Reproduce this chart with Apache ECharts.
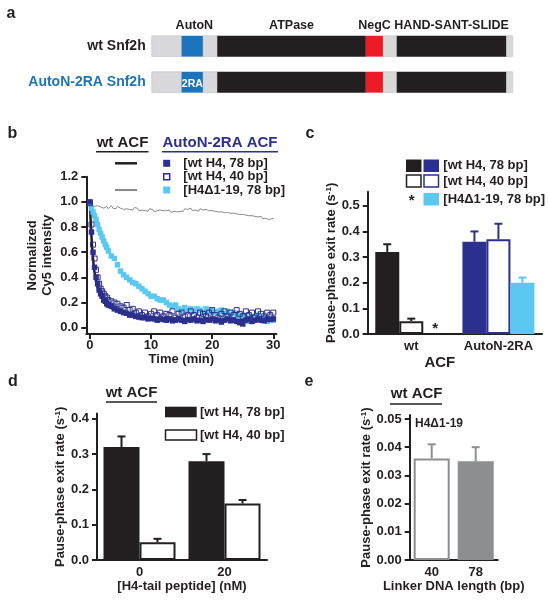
<!DOCTYPE html>
<html><head><meta charset="utf-8">
<script src="https://cdn.jsdelivr.net/npm/echarts/dist/echarts.min.js"></script>
<style>html,body{margin:0;padding:0;background:#fff}#c{width:549px;height:600px}</style>
</head><body><div id="c"></div><script>
// ---------- Panel a: domain map ----------
const proteins = ['wt Snf2h', 'AutoN-2RA Snf2h'];
const domainStart = [0, 87, 150, 191, 624, 675, 714, 1034];
const domainEnd   = [87, 150, 191, 624, 675, 714, 1034, 1052];
const domainNames = ['', 'AutoN', '', 'ATPase', 'NegC', '', 'HAND-SANT-SLIDE', ''];
const domainKinds = ['linker', 'autoN', 'linker', 'core', 'negC', 'linker', 'core', 'linker'];
const mutantLabel = '2RA';

// ---------- Panel b: time courses ----------
const sqTimes = [0,0.25,0.5,0.75,1,1.25,1.5,1.75,2,2.25,2.5,2.75,3,
  3.5,4,4.5,5,5.5,6,6.5,7,7.5,8,8.5,9,9.5,10,10.5,11,11.5,12,12.5,13,13.5,14,14.5,15,
  15.5,16,16.5,17,17.5,18,18.5,19,19.5,20,20.5,21,21.5,22,22.5,23,23.5,24,24.5,25,
  25.5,26,26.5,27,27.5,28,28.5,29,29.5,30];
const mut78 = [1.00,0.76,0.60,0.48,0.40,0.35,0.30,0.27,0.25,0.22,0.21,0.19,0.18,
  0.17,0.15,0.14,0.13,0.12,0.115,0.10,0.10,0.09,0.085,0.08,0.08,0.07,0.075,0.07,0.06,0.07,0.065,0.06,0.07,0.055,0.06,0.07,0.06,
  0.05,0.065,0.06,0.07,0.055,0.06,0.05,0.065,0.06,0.07,0.055,0.06,0.045,0.06,0.07,0.055,0.06,0.05,0.04,0.03,
  0.06,0.07,0.05,0.06,0.07,0.06,0.055,0.07,0.065,0.07];
const mut40 = [0.99,0.82,0.66,0.55,0.46,0.40,0.35,0.31,0.29,0.27,0.25,0.24,0.22,
  0.21,0.20,0.19,0.17,0.16,0.18,0.14,0.15,0.12,0.13,0.10,0.12,0.09,0.11,0.13,0.10,0.12,0.09,0.11,0.10,0.13,0.08,0.11,0.12,
  0.09,0.10,0.13,0.10,0.08,0.12,0.11,0.09,0.12,0.14,0.10,0.08,0.11,0.13,0.09,0.12,0.10,0.14,0.11,0.09,
  0.13,0.10,0.12,0.08,0.13,0.11,0.09,0.12,0.10,0.12];
const mutDel = [0.99,0.95,0.92,0.89,0.86,0.82,0.78,0.75,0.72,0.69,0.66,0.64,0.61,
  0.57,0.55,0.50,0.45,0.42,0.40,0.38,0.36,0.35,0.33,0.31,0.29,0.27,0.25,0.25,0.23,0.22,0.22,0.20,0.18,0.17,0.18,0.15,0.14,
  0.16,0.14,0.15,0.13,0.15,0.14,0.12,0.15,0.13,0.14,0.12,0.13,0.14,0.11,0.13,0.10,0.12,0.11,0.09,0.10,
  0.08,0.05,0.09,0.07,0.10,0.06,0.08,0.05,0.07,0.06];
const wtFitT = [0,0.25,0.5,0.75,1,1.25,1.5,1.75,2,2.25,2.5,2.75,3,3.5,4,5,6,7,8,10,12,15,20,25,30];
const wtFitY = [1.0,0.72,0.55,0.44,0.37,0.32,0.28,0.25,0.23,0.21,0.195,0.18,0.17,0.155,0.145,0.125,0.11,0.10,0.09,0.08,0.075,0.07,0.065,0.06,0.06];
const wtDelStep = 0.25;
const wtDelY = [0.99,0.97,0.955,0.965,0.95,0.97,0.955,0.96,0.975,0.95,
  0.96,0.965,0.945,0.96,0.97,0.95,0.96,0.945,0.965,0.955,
  0.95,0.96,0.94,0.955,0.945,0.96,0.94,0.95,0.935,0.955,
  0.94,0.95,0.93,0.945,0.935,0.95,0.93,0.94,0.925,0.945,
  0.93,0.94,0.92,0.935,0.93,0.915,0.935,0.92,0.93,0.915,
  0.93,0.92,0.935,0.915,0.93,0.925,0.94,0.92,0.935,0.925,
  0.94,0.925,0.945,0.93,0.94,0.935,0.95,0.93,0.945,0.935,
  0.94,0.925,0.945,0.93,0.935,0.92,0.94,0.925,0.93,0.915,
  0.93,0.915,0.925,0.91,0.92,0.905,0.92,0.91,0.915,0.9,
  0.915,0.905,0.91,0.895,0.91,0.9,0.905,0.89,0.9,0.895,
  0.9,0.885,0.895,0.88,0.89,0.875,0.89,0.88,0.885,0.87,
  0.88,0.87,0.885,0.865,0.875,0.87,0.88,0.86,0.875,0.865,
  0.87];
const bTicksX = [0, 10, 20, 30];
const bTicksY = [0, 0.2, 0.4, 0.6, 0.8, 1.0, 1.2];

// ---------- Panel c ----------
const cCats = ['wt', 'AutoN-2RA'];
const c78 = [0.32, 0.36], c78Err = [0.35, 0.40];
const c40 = [0.05, 0.37], c40Err = [0.06, 0.43];
const cDel = [null, 0.20], cDelErr = [null, 0.22];
const cTicksY = [0, 0.1, 0.2, 0.3, 0.4, 0.5];

// ---------- Panel d ----------
const dCats = ['0', '20'];
const d78 = [0.32, 0.28], d78Err = [0.35, 0.30];
const d40 = [0.05, 0.16], d40Err = [0.06, 0.17];
const dTicksY = [0, 0.1, 0.2, 0.3, 0.4];

// ---------- Panel e ----------
const eCats = ['40', '78'];
const eVal = [0.036, 0.035], eErr = [0.041, 0.040];
const eTicksY = [0, 0.01, 0.02, 0.03, 0.04, 0.05];

// ---------- styles ----------
const FONT = '"Liberation Sans", Arial, Helvetica, sans-serif';
const INK = '#231f20', NAVY = '#2b2f8e', CYAN = '#5ac8f0', GREY = '#8d8e90', BLUE = '#1c75bc';
const kindColors = {linker: '#d8d8da', autoN: BLUE, core: INK, negC: '#ed1c24'};

const chart = echarts.init(document.getElementById('c'), null, {renderer: 'canvas'});

function lbl(extra) { return Object.assign({color: INK, fontSize: 13, fontWeight: 'bold', fontFamily: FONT}, extra || {}); }
const aLine = {show: true, onZero: false, lineStyle: {color: INK, width: 2}};
function ticks(vals) { const t = {show: true, length: 5, inside: false, lineStyle: {color: INK, width: 2}}; if (vals) t.customValues = vals; return t; }
const yName = '{t|Pause-phase exit rate (s}{s|-1}{t|)}';
const yNameStyle = {rich: {t: {fontSize: 13, fontWeight: 'bold', fontFamily: FONT, color: INK}, s: {fontSize: 8, fontWeight: 'bold', fontFamily: FONT, color: INK, verticalAlign: 'top', lineHeight: 10}}};

function valAxis(grid, min, max, vals, dec, name, gap, extra) {
  return Object.assign({
    type: 'value', gridIndex: grid, min: min, max: max,
    axisLine: aLine, axisTick: ticks(vals), splitLine: {show: false},
    axisLabel: lbl({customValues: vals, margin: 8, formatter: v => v.toFixed(dec)}),
    name: name, nameLocation: 'middle', nameGap: gap, nameRotate: 90, nameTextStyle: yNameStyle
  }, extra || {});
}
function catAxis(grid, cats, name, gap, nameStyle) {
  return {
    type: 'category', gridIndex: grid, data: cats,
    axisLine: aLine, axisTick: {show: false}, splitLine: {show: false},
    axisLabel: lbl({margin: 6, interval: 0}),
    name: name, nameLocation: 'middle', nameGap: gap, nameTextStyle: nameStyle || lbl()
  };
}

// Panel a render
const aData = [];
proteins.forEach((p, r) => domainStart.forEach((s, i) => aData.push([r, s, domainEnd[i], i])));
function renderDomain(params, api) {
  const row = api.value(0), s = api.value(1), e = api.value(2), k = api.value(3);
  const p0 = api.coord([s, row]), p1 = api.coord([e, row]);
  const h = api.size([0, 1])[1] * 0.58;
  const kind = domainKinds[k];
  const kids = [{type: 'rect', shape: {x: p0[0], y: p0[1] - h / 2, width: p1[0] - p0[0], height: h},
    style: {fill: kindColors[kind], stroke: kind === 'linker' ? '#c4c4c6' : null, lineWidth: 0.6}}];
  if (row === 0 && domainNames[k]) {
    kids.push({type: 'text', x: (p0[0] + p1[0]) / 2 + (kind === 'autoN' ? 2 : 0), y: p0[1] - h / 2 - 4,
      style: {text: domainNames[k], fill: INK, font: 'bold 12.5px ' + FONT, align: 'center', verticalAlign: 'bottom'}});
  }
  if (row === 1 && kind === 'autoN') {
    kids.push({type: 'text', x: (p0[0] + p1[0]) / 2, y: p0[1] + 2,
      style: {text: mutantLabel, fill: '#fff', font: 'bold 10.5px ' + FONT, align: 'center', verticalAlign: 'middle'}});
  }
  return {type: 'group', children: kids};
}

// error bars
function errSeries(xi, yi, nSlots, barW, items, z) {
  return {
    type: 'custom', xAxisIndex: xi, yAxisIndex: yi, z: z || 5, data: items.map(it => [it[0], it[1], it[2], it[3]]),
    renderItem: (params, api) => {
      const it = items[params.dataIndex];
      const off = (api.value(3) - (nSlots - 1) / 2) * barW;
      const pb = api.coord([api.value(0), api.value(1)]), pt = api.coord([api.value(0), api.value(2)]);
      const x = pb[0] + off;
      return {type: 'group', children: [
        {type: 'line', shape: {x1: x, y1: pb[1], x2: x, y2: pt[1]}, style: {stroke: it[4], lineWidth: 2}},
        {type: 'line', shape: {x1: x - 4, y1: pt[1], x2: x + 4, y2: pt[1]}, style: {stroke: it[4], lineWidth: 2}}
      ]};
    }
  };
}

const sq = (ys) => sqTimes.map((t, i) => [t, ys[i]]);

// graphic helpers
function T(text, x, y, o) {
  o = o || {};
  return {type: 'text', x: x, y: y, z: 100, style: {text: text, fill: o.color || INK,
    font: 'bold ' + (o.size || 13) + 'px ' + FONT, align: o.align || 'left', verticalAlign: 'middle'}};
}
function L(x1, y1, x2, y2, c, w) { return {type: 'line', z: 100, shape: {x1, y1, x2, y2}, style: {stroke: c || INK, lineWidth: w || 1.5}}; }
function R(x, y, w, h, fill, stroke) { return {type: 'rect', z: 100, shape: {x, y, width: w, height: h}, style: {fill: fill, stroke: stroke || null, lineWidth: 1.5}}; }

const option = {
  animation: false,
  textStyle: {fontFamily: FONT},
  grid: [
    {left: 151.7, top: 28.2, width: 361, height: 72},
    {left: 86.3, top: 176.7, width: 190.1, height: 157.3},
    {left: 367.7, top: 191.7, width: 174.3, height: 142.3},
    {left: 97, top: 413.5, width: 170, height: 146.5},
    {left: 409.7, top: 415, width: 88, height: 145}
  ],
  xAxis: [
    {type: 'value', gridIndex: 0, min: 0, max: 1052, show: false},
    {type: 'value', gridIndex: 1, min: -0.6, max: 30.5, axisLine: aLine, axisTick: ticks(bTicksX), splitLine: {show: false},
      axisLabel: lbl({customValues: bTicksX, margin: 5}), name: 'Time (min)', nameLocation: 'middle', nameGap: 18, nameTextStyle: lbl()},
    catAxis(2, cCats, 'ACF', 21, lbl({fontSize: 15, padding: [0, 30, 0, 0]})),
    catAxis(3, dCats, '[H4-tail peptide] (nM)', 20),
    catAxis(4, eCats, 'Linker DNA length (bp)', 20)
  ],
  yAxis: [
    {type: 'category', gridIndex: 0, data: proteins, inverse: true, axisLine: {show: false}, axisTick: {show: false},
      axisLabel: {margin: 6, fontSize: 14, fontWeight: 'bold', fontFamily: FONT, color: (v, i) => i === 0 ? INK : BLUE}},
    valAxis(1, -0.05, 1.2, bTicksY, 1, 'Normalized\nCy5 intensity', 31,
      {nameTextStyle: lbl({lineHeight: 15})}),
    valAxis(2, 0, 0.555, cTicksY, 1, yName, 26),
    valAxis(3, 0, 0.415, dTicksY, 1, yName, 30),
    valAxis(4, 0, 0.0514, eTicksY, 2, yName, 34)
  ],
  series: [
    {type: 'custom', xAxisIndex: 0, yAxisIndex: 0, renderItem: renderDomain, data: aData},
    // b
    {type: 'line', xAxisIndex: 1, yAxisIndex: 1, showSymbol: false, symbol: 'none', lineStyle: {color: '#8a8a8a', width: 1},
      data: wtDelY.map((y, i) => [i * wtDelStep, y]), z: 2},
    {type: 'line', xAxisIndex: 1, yAxisIndex: 1, showSymbol: false, symbol: 'none', smooth: true, lineStyle: {color: INK, width: 2.5},
      data: wtFitT.map((t, i) => [t, wtFitY[i]]), z: 3},
    {type: 'scatter', xAxisIndex: 1, yAxisIndex: 1, symbol: 'rect', symbolSize: 5.5, itemStyle: {color: CYAN, opacity: 1}, data: sq(mutDel), z: 4},
    {type: 'scatter', xAxisIndex: 1, yAxisIndex: 1, symbol: 'rect', symbolSize: 5.5, itemStyle: {color: NAVY, opacity: 1}, data: sq(mut78), z: 5},
    {type: 'scatter', xAxisIndex: 1, yAxisIndex: 1, symbol: 'rect', symbolSize: 5, itemStyle: {color: 'rgba(255,255,255,0)', borderColor: NAVY, borderWidth: 1, opacity: 1}, data: sq(mut40), z: 6},
    // c
    {type: 'bar', xAxisIndex: 2, yAxisIndex: 2, barWidth: 24, barGap: '0%',
      data: c78.map((v, i) => ({value: v, itemStyle: {color: i === 0 ? INK : NAVY}}))},
    {type: 'bar', xAxisIndex: 2, yAxisIndex: 2, barWidth: 24, barGap: '0%',
      data: c40.map((v, i) => ({value: v, itemStyle: {color: '#fff', borderColor: i === 0 ? INK : NAVY, borderWidth: 2}}))},
    {type: 'bar', xAxisIndex: 2, yAxisIndex: 2, barWidth: 24, barGap: '0%',
      data: cDel.map((v, i) => v === null
        ? {value: 0, itemStyle: {color: 'transparent'}, label: {show: true, position: 'top', distance: -2, formatter: '*', fontSize: 15, fontWeight: 'bold', color: INK}}
        : {value: v, itemStyle: {color: CYAN}})},
    errSeries(2, 2, 3, 24, [
      [0, c78[0], c78Err[0], 0, INK], [1, c78[1], c78Err[1], 0, NAVY],
      [0, c40[0], c40Err[0], 1, INK], [1, c40[1], c40Err[1], 1, NAVY],
      [1, cDel[1], cDelErr[1], 2, CYAN]]),
    // d
    {type: 'bar', xAxisIndex: 3, yAxisIndex: 3, barWidth: 36, barGap: '0%', itemStyle: {color: INK}, data: d78},
    {type: 'bar', xAxisIndex: 3, yAxisIndex: 3, barWidth: 36, barGap: '0%', itemStyle: {color: '#fff', borderColor: INK, borderWidth: 2}, data: d40},
    errSeries(3, 3, 2, 36, [
      [0, d78[0], d78Err[0], 0, INK], [1, d78[1], d78Err[1], 0, INK],
      [0, d40[0], d40Err[0], 1, INK], [1, d40[1], d40Err[1], 1, INK]]),
    // e
    {type: 'bar', xAxisIndex: 4, yAxisIndex: 4, barWidth: 36,
      data: eVal.map((v, i) => ({value: v, itemStyle: i === 0 ? {color: '#fff', borderColor: GREY, borderWidth: 2} : {color: GREY}}))},
    errSeries(4, 4, 1, 36, [[0, eVal[0], eErr[0], 0, GREY], [1, eVal[1], eErr[1], 0, GREY]])
  ],
  graphic: [
    T('a', 11, 14, {size: 16, align: 'center'}),
    T('b', 12.5, 134, {size: 16, align: 'center'}),
    T('c', 310, 134, {size: 16, align: 'center'}),
    T('d', 13, 382, {size: 16, align: 'center'}),
    T('e', 309, 382, {size: 16, align: 'center'}),
    // b legend
    T('wt ACF', 122.5, 143, {size: 15, align: 'center'}), L(96, 151.7, 148.5, 151.7, INK, 1.5),
    T('AutoN-2RA ACF', 220, 143, {size: 15, align: 'center', color: NAVY}), L(162, 151.7, 278, 151.7, NAVY, 1.5),
    L(115, 163.3, 137, 163.3, INK, 2.5), L(115, 190, 137, 190, '#8a8a8a', 2),
    R(163.2, 159.8, 7, 7, NAVY), R(163.7, 173.7, 6, 6, '#fff', NAVY), R(163.2, 186.5, 7, 7, CYAN),
    T('[wt H4, 78 bp]', 183.3, 163.3), T('[wt H4, 40 bp]', 183.3, 176.7), T('[H4\u03941-19, 78 bp]', 183.3, 190),
    // c legend
    R(406, 159.5, 15.5, 12.5, INK), R(423.5, 159.5, 15.5, 12.5, NAVY),
    R(406.5, 175, 14.5, 12, '#fff', INK), R(424, 175, 14.5, 12, '#fff', NAVY),
    T('*', 411.7, 200.5, {size: 15, align: 'center'}), R(423.5, 193, 15.5, 12.5, CYAN),
    T('[wt H4, 78 bp]', 443.3, 165.7), T('[wt H4, 40 bp]', 443.3, 181), T('[H4\u03941-19, 78 bp]', 443.3, 199.3),
    // d
    T('wt ACF', 131.5, 393, {size: 15, align: 'center'}), L(106, 402, 157, 402, INK, 1.5),
    R(165, 406.7, 31.7, 10.6, INK), R(165.5, 430, 31, 10, '#fff', INK),
    T('[wt H4, 78 bp]', 200, 412), T('[wt H4, 40 bp]', 200, 435.5),
    // e
    T('wt ACF', 416.7, 394, {size: 15, align: 'center'}), L(390, 404, 442, 404, INK, 1.5),
    T('H4\u03941-19', 415, 423.5, {size: 12})
  ]
};
chart.setOption(option);
</script></body></html>
